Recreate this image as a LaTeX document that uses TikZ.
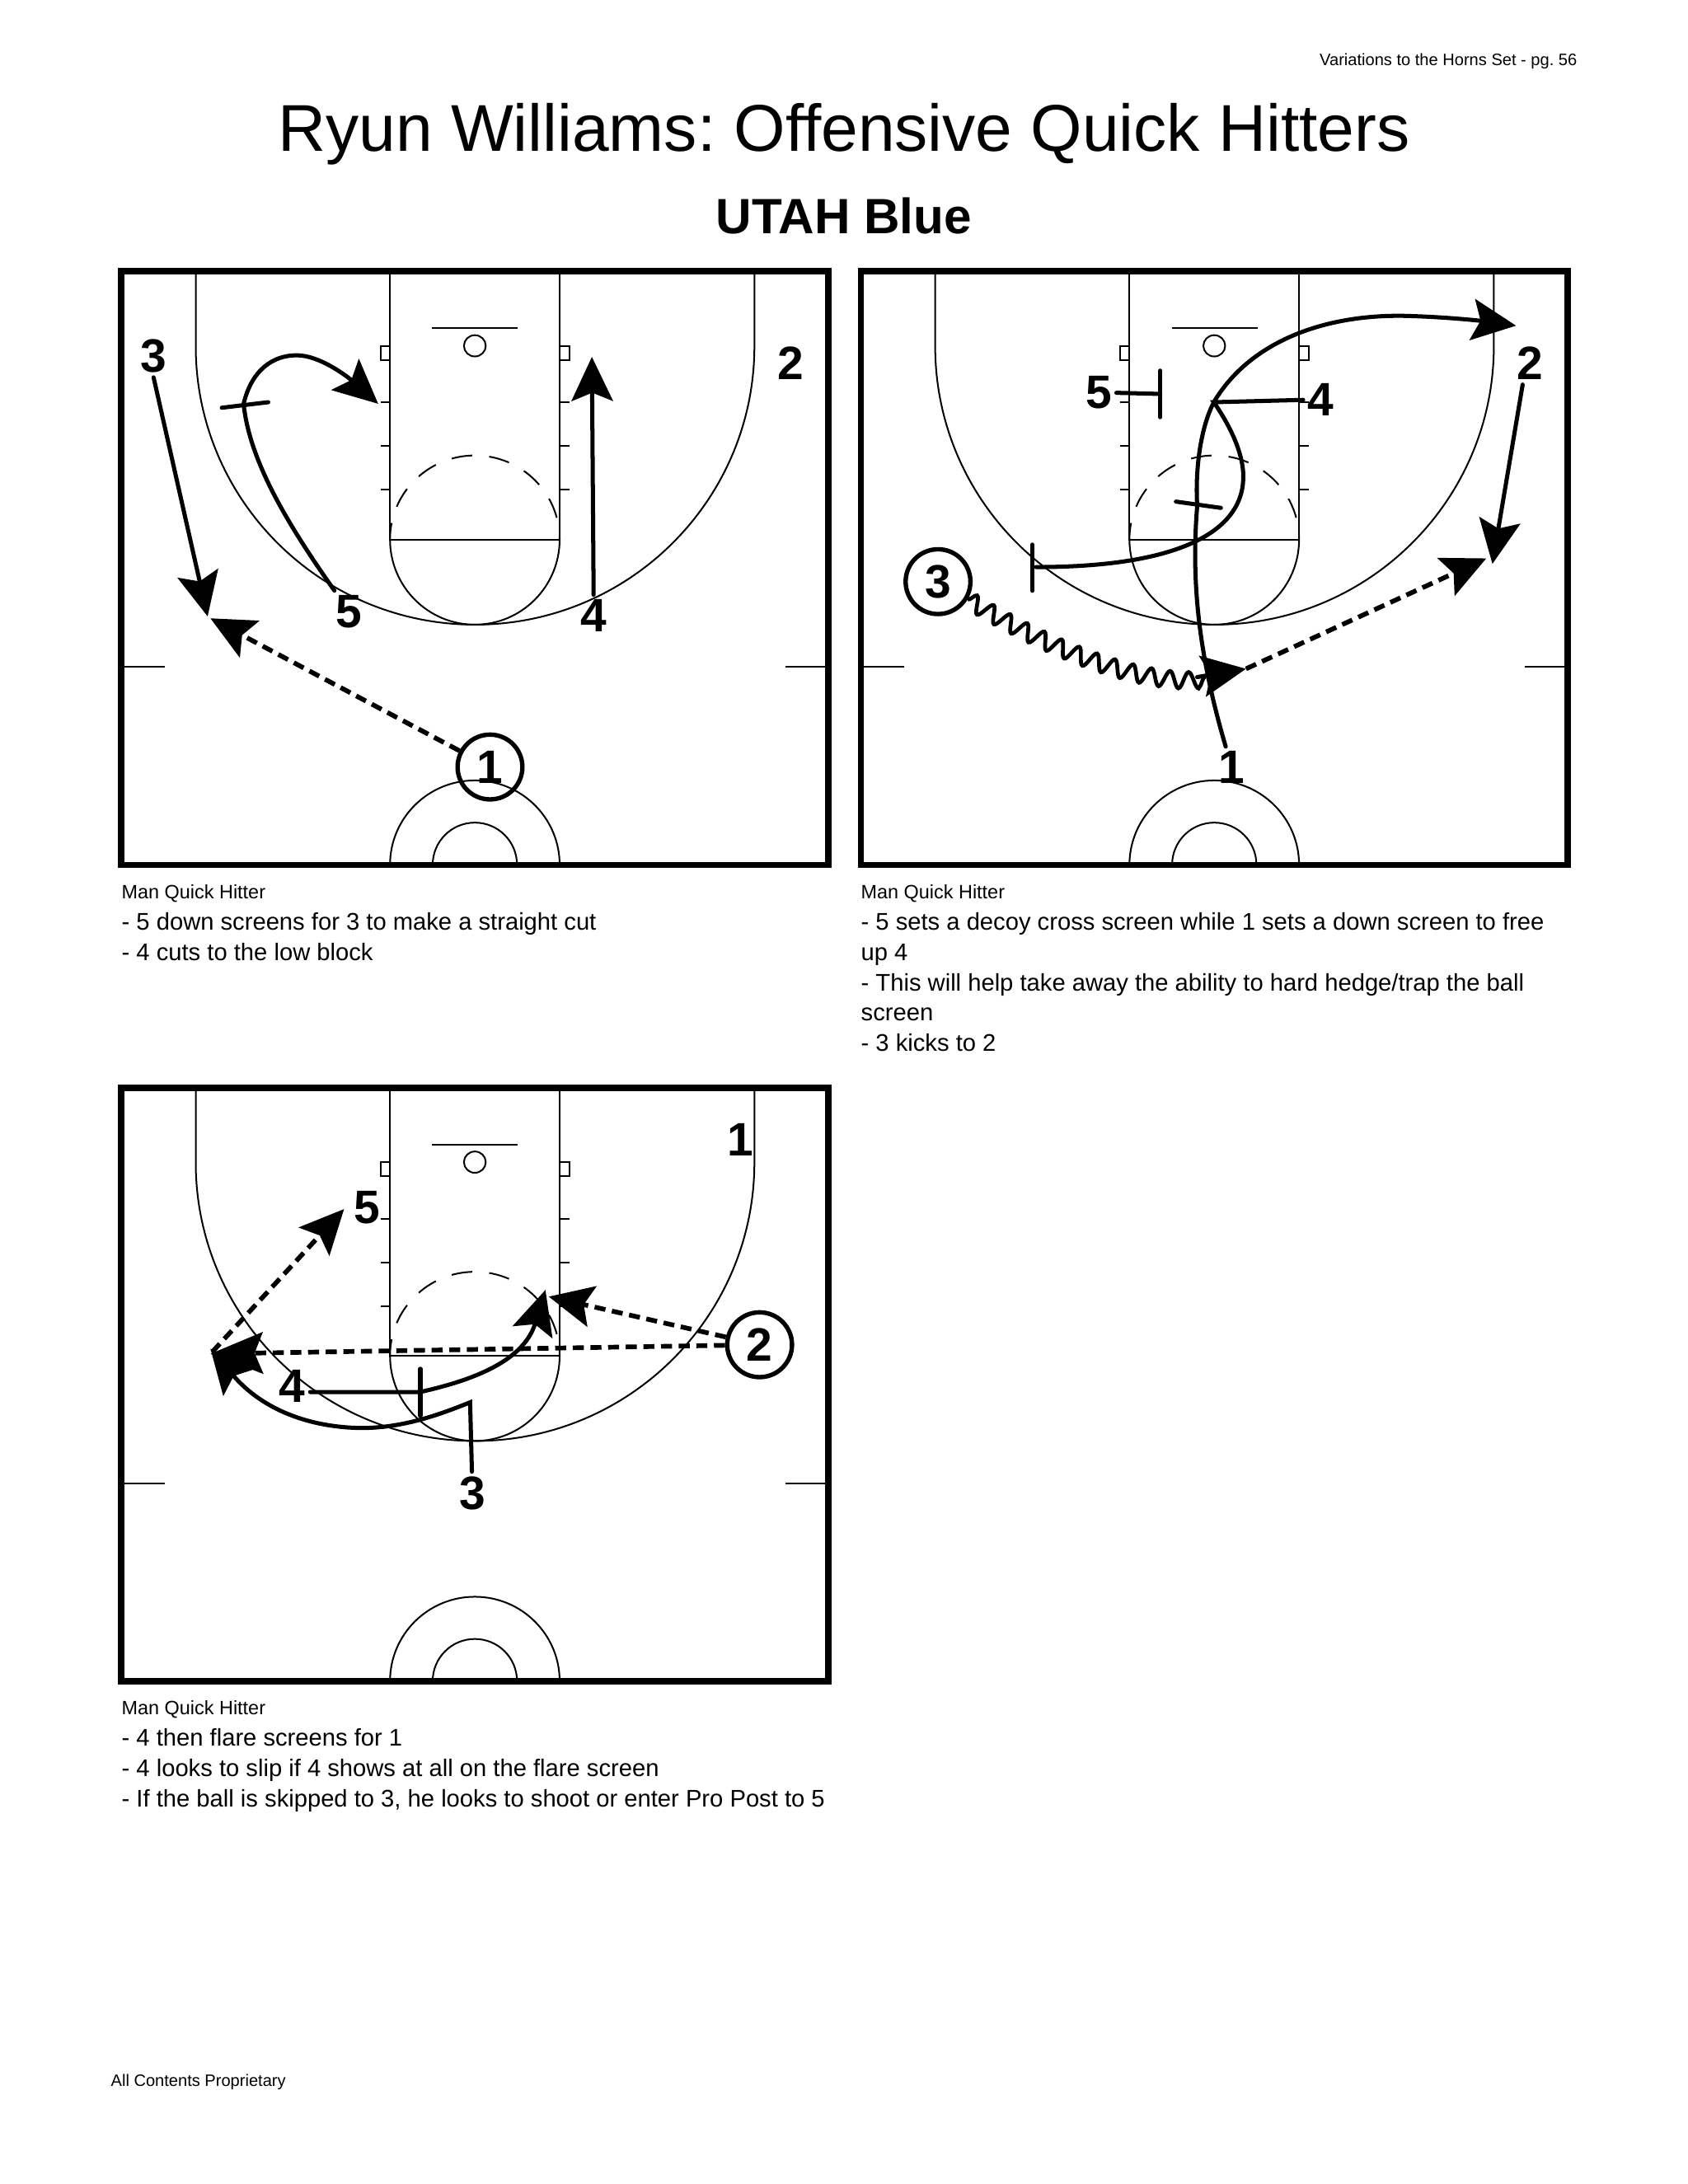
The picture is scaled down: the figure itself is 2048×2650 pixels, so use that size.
\documentclass[tikz,border=0pt]{standalone}
\usepackage{fontspec}
\setmainfont[RawFeature={-liga}]{Liberation Sans}
\usetikzlibrary{arrows.meta,decorations.pathmorphing}
\tikzset{
  lines/.style    = {line width=0.6pt, draw=black},
  edge/.style     = {line width=2.3pt, draw=black},
  keydash/.style  = {lines, dash pattern=on 7.5pt off 6.2pt, dash phase=1.5pt},
  num/.style      = {font=\bfseries\fontsize{17}{17}\selectfont, inner sep=1.5pt},
  ball/.style     = {num, circle, draw, line width=1.6pt, minimum size=23.5pt, inner sep=0pt},
  cut/.style      = {line width=1.5pt, line cap=round, -{Stealth[length=16pt,width=15pt,inset=3pt]}},
  screen/.style   = {line width=1.5pt, line cap=round},
  pass/.style     = {line width=1.7pt, dash pattern=on 4pt off 2.4pt, -{Stealth[length=16pt,width=15pt,inset=3pt]}},
  dribble/.style  = {line width=1.4pt, decorate, decoration={snake,amplitude=3pt,segment length=7pt}},
  note/.style     = {anchor=north west, inner sep=0pt, align=left, font=\fontsize{8.72}{10.95}\selectfont},
  small/.style    = {anchor=north west, inner sep=0pt, font=\fontsize{7}{8}\selectfont},
  tiny/.style     = {inner sep=0pt, font=\fontsize{6}{7}\selectfont},
  court/.style    = {x=0.1718pt, y=-0.1430pt},
}
\newcommand{\courtlines}{
  \draw[edge] (30,40) rectangle (1522,1545);
  % --- lane and key --------------------------------------------------------
  \draw[lines] (597,40) -- (597,720) -- (955,720) -- (955,40);
  \draw[lines] (597,720) arc[start angle=180, end angle=0, x radius=179, y radius=216];
  \draw[keydash] (597,720) arc[start angle=180, end angle=360, x radius=179, y radius=213];
  % --- three point line ----------------------------------------------------
  \draw[lines] (187,40) -- (187,230) arc[start angle=180, end angle=0, x radius=589.5, y radius=706] -- (1366,40);
  % --- blocks, ticks, rim --------------------------------------------------
  \draw[lines] (577,229) rectangle (597,265);
  \draw[lines] (955,229) rectangle (975,265);
  \foreach \yy in {372,483,594} {
    \draw[lines] (577,\yy) -- (597,\yy);
    \draw[lines] (955,\yy) -- (975,\yy);
  }
  \draw[lines] (686,184) -- (867,184);
  \draw[lines] (776,229) ellipse[x radius=23, y radius=27];
  \draw[lines] (37,1043) -- (121,1043);
  \draw[lines] (1431,1043) -- (1516,1043);
  % --- centre circle -------------------------------------------------------
  \draw[lines] (597,1545) arc[start angle=180, end angle=360, x radius=179, y radius=214];
  \draw[lines] (687,1545) arc[start angle=180, end angle=360, x radius=89, y radius=107];
}
\begin{document}
\frenchspacing
\begin{tikzpicture}[x=0.29885pt,y=-0.29885pt]
\useasboundingbox (0,0) rectangle (2048,2650);

% --- page texts ----------------------------------------------------------
\node[tiny, anchor=east] (pageref) at (1914,74) {Variations to the Horns Set - pg. 56};
\node[inner sep=0pt, font=\fontsize{24}{26}\selectfont] (title) at (1024,163) {Ryun Williams: Offensive Quick Hitters};
\node[inner sep=0pt, font=\bfseries\fontsize{18}{20}\selectfont] (subtitle) at (1024,262) {UTAH Blue};
\node[small] (hita) at (147,1073) {Man Quick Hitter};
\node[note] (notea) at (147,1107) {- 5 down screens for 3 to make a straight cut\\- 4 cuts to the low block};
\node[small] (hitb) at (1044,1073) {Man Quick Hitter};
\node[note] (noteb) at (1044,1107) {- 5 sets a decoy cross screen while 1 sets a down screen to free\\up 4\\- This will help take away the ability to hard hedge/trap the ball\\screen\\- 3 kicks to 2};
\node[small] (hitc) at (147,2063) {Man Quick Hitter};
\node[note] (notec) at (147,2097) {- 4 then flare screens for 1\\- 4 looks to slip if 4 shows at all on the flare screen\\- If the ball is skipped to 3, he looks to shoot or enter Pro Post to 5};
\node[tiny, anchor=north west] (footer) at (134,2516) {All Contents Proprietary};

% --- first court ---------------------------------------------------------
\begin{scope}[shift={(130,310)},court]
  \courtlines
  \node[num] (a3) at (98,255) {3};
  \node[num] (a2) at (1443,272) {2};
  \node[num] (a5) at (511,903) {5};
  \node[num] (a4) at (1027,913) {4};
  \node[ball] (a1) at (808,1297) {1};
  \coordinate (acatch) at (212,915);
  \coordinate (apass) at (218,920);
  \coordinate (ablock) at (1023,257);
  \coordinate (atop) at (288,376);
  \coordinate (aend) at (572,376);
  \coordinate (ascra) at (242,386);
  \coordinate (ascrb) at (340,372);
  \draw[cut] (a3.south) -- (acatch);
  \draw[cut] (a4) -- (ablock);
  \draw[cut] (a5) .. controls (380,680) and (300,520) .. (atop)
    .. controls (305,290) and (350,253) .. (400,253)
    .. controls (450,253) and (510,310) .. (aend);
  \draw[screen] (ascra) -- (ascrb);
  \draw[pass] (a1) -- (apass);
\end{scope}

% --- second court --------------------------------------------------------
\begin{scope}[shift={(1030,310)},court]
  \begin{scope}[shift={(-5,0)}]
    \courtlines
  \end{scope}
  \node[num] (b5) at (527,347) {5};
  \node[num] (b4) at (996,365) {4};
  \node[num] (b2) at (1438,274) {2};
  \node[num] (b1) at (808,1298) {1};
  \node[ball] (b3) at (188,827) {3};
  \coordinate (bmeet) at (770,372);
  \coordinate (bcross) at (395,790);
  \coordinate (bdown) at (735,635);
  \coordinate (bcorner) at (1408,178);
  \coordinate (bcatch) at (1358,782);
  \coordinate (bkick) at (1345,768);
  \coordinate (bwave) at (752,1068);
  \coordinate (bback) at (735,1069);
  \coordinate (bball) at (838,1048);
  \coordinate (bscra) at (657,351);
  \coordinate (bscrb) at (657,292);
  \coordinate (bscrc) at (657,410);
  \coordinate (bscrd) at (387,733);
  \coordinate (bscre) at (387,850);
  \coordinate (bscrf) at (690,624);
  \coordinate (bscrg) at (785,640);
  \draw[screen] (b5) -- (bscra);
  \draw[screen] (bscrb) -- (bscrc);
  \draw[screen] (b4) -- (bmeet)
    .. controls (815,450) and (835,520) .. (832,570)
    .. controls (828,680) and (730,790) .. (bcross);
  \draw[screen] (bscrd) -- (bscre);
  \draw[screen] (bscrf) -- (bscrg);
  \draw[cut] (b1) .. controls (745,1040) and (720,850) .. (bdown)
    .. controls (730,530) and (745,430) .. (bmeet)
    .. controls (845,220) and (1000,150) .. (1170,153)
    .. controls (1250,155) and (1330,165) .. (bcorner);
  \draw[cut] (b2.250) -- (bcatch);
  \draw[dribble] (b3) .. controls (400,980) and (600,1090) .. (bwave);
  \draw[cut] (bback) -- (bball);
  \draw[pass] (bball) -- (bkick);
\end{scope}

% --- third court ---------------------------------------------------------
\begin{scope}[shift={(130,1300.5)},court]
  \courtlines
  \node[num] (c1) at (1337,172) {1};
  \node[num] (c5) at (549,345) {5};
  \node[num] (c4) at (391,797) {4};
  \node[num] (c3) at (771,1068) {3};
  \node[ball] (c2) at (1377,692) {2};
  \coordinate (cturn) at (766,838);
  \coordinate (cwing) at (218,702);
  \coordinate (cskip) at (218,715);
  \coordinate (cpost) at (500,348);
  \coordinate (cstart) at (222,710);
  \coordinate (cmid) at (660,812);
  \coordinate (cslip) at (925,553);
  \coordinate (cflare) at (932,570);
  \coordinate (cscra) at (661,753);
  \coordinate (cscrb) at (661,872);
  \draw[cut] (c3) -- (cturn)
    .. controls (700,870) and (620,905) .. (530,903)
    .. controls (430,900) and (330,860) .. (cwing);
  \draw[cut] (c4.east |- cmid) -- (cmid) .. controls (780,780) and (880,730) .. (cslip);
  \draw[screen] (cscra) -- (cscrb);
  \draw[pass, -{Stealth[length=19pt,width=15pt,inset=3pt]}] (c2) -- (cskip);
  \draw[pass] (c2) -- (cflare);
  \draw[pass] (cstart) -- (cpost);
\end{scope}

\end{tikzpicture}
\end{document}
